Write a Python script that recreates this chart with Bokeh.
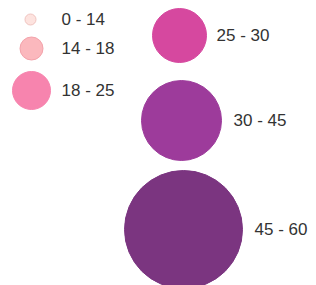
from bokeh.plotting import figure
from bokeh.models import ColumnDataSource, Range1d
from bokeh.core.properties import value
from bokeh.embed import file_html
from bokeh.resources import INLINE

# --- data ---
labels = ["0 - 14", "14 - 18", "18 - 25", "25 - 30", "30 - 45", "45 - 60"]
lower = [0, 14, 18, 25, 30, 45]
upper = [14, 18, 25, 30, 45, 60]

# --- layout / style ---
cx = [30, 31, 31, 179, 181, 183]
cy = [19, 48, 90, 35, 120, 229]
rad = [5.5, 11.5, 19, 27, 40, 59]
tx = [61, 61, 61, 216, 233, 254]
fills = ["#fde3df", "#fbb8bd", "#f784ae", "#d6489f", "#9d3b9b", "#7b3580"]
lines = ["#f0c4c0", "#f3a3ab", "#f784ae", "#d6489f", "#9d3b9b", "#7b3580"]

src = ColumnDataSource(dict(label=labels, lo=lower, hi=upper, x=cx, y=cy, r=rad,
                            tx=tx, fill=fills, line=lines))

W, H = 316, 285
p = figure(width=W, height=H, output_backend="svg", toolbar_location=None,
           x_range=Range1d(0, W), y_range=Range1d(H, 0),
           min_border=0, outline_line_color=None)
p.axis.visible = False
p.grid.visible = False
p.background_fill_color = "white"
p.border_fill_color = "white"

p.circle(x="x", y="y", radius="r", radius_units="screen", source=src,
         fill_color="fill", line_color="line", line_width=1)
p.text(x="tx", y="y", text="label", source=src, text_font=value("Liberation Sans"),
       text_font_size="17px", text_color="#333333", text_align="left",
       text_baseline="middle")

open("out.html", "w").write(file_html(p, INLINE))
